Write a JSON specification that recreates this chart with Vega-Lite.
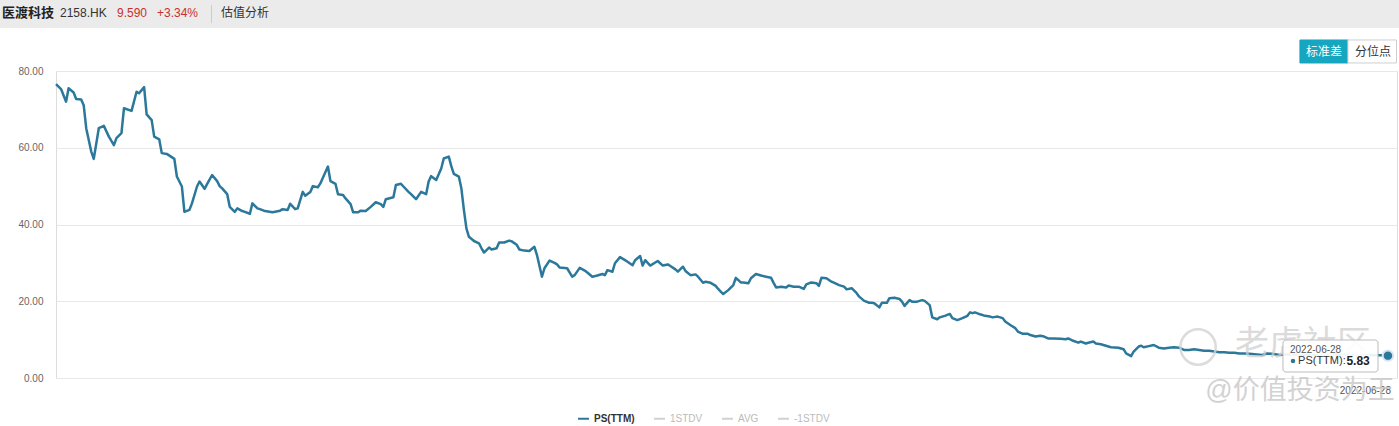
{
  "$schema": "https://vega.github.io/schema/vega-lite/v6.json",
  "width": 1341,
  "height": 307,
  "autosize": {"type": "none"},
  "padding": {"left": 56, "top": 71, "right": 2, "bottom": 48},
  "background": "white",
  "config": {
    "font": "Liberation Sans, Noto Sans CJK SC, sans-serif",
    "view": {"stroke": "#dcdcdc", "strokeWidth": 1}
  },
  "datasets": {
    "ps": [
      {"day":0,"ps":76.6},{"day":2,"ps":75.3},{"day":4,"ps":72.0},{"day":5,"ps":75.5},{"day":7,"ps":74.4},{"day":8,"ps":72.7},{"day":10,"ps":72.6},{"day":11,"ps":71.1},{"day":12,"ps":65.1},{"day":14,"ps":59.0},{"day":15,"ps":57.1},{"day":17,"ps":65.1},{"day":19,"ps":65.7},{"day":21,"ps":62.9},{"day":23,"ps":60.7},{"day":24,"ps":62.5},{"day":26,"ps":63.8},{"day":27,"ps":70.3},{"day":30,"ps":69.6},{"day":32,"ps":74.6},{"day":33,"ps":74.2},{"day":35,"ps":75.8},{"day":36,"ps":68.7},{"day":38,"ps":67.2},{"day":39,"ps":62.9},{"day":41,"ps":62.2},{"day":42,"ps":58.6},{"day":44,"ps":58.4},{"day":47,"ps":57.1},{"day":48,"ps":52.5},{"day":50,"ps":49.9},{"day":51,"ps":43.3},{"day":53,"ps":43.8},{"day":54,"ps":45.5},{"day":56,"ps":49.9},{"day":57,"ps":51.2},{"day":59,"ps":49.3},{"day":60,"ps":50.5},{"day":62,"ps":52.9},{"day":64,"ps":51.3},{"day":65,"ps":50.0},{"day":66,"ps":49.4},{"day":68,"ps":47.9},{"day":69,"ps":44.6},{"day":71,"ps":43.3},{"day":72,"ps":44.2},{"day":74,"ps":43.5},{"day":75,"ps":43.3},{"day":77,"ps":42.8},{"day":78,"ps":45.5},{"day":80,"ps":44.2},{"day":81,"ps":44.0},{"day":83,"ps":43.5},{"day":86,"ps":43.2},{"day":89,"ps":43.6},{"day":90,"ps":44.0},{"day":92,"ps":43.8},{"day":93,"ps":45.4},{"day":95,"ps":44.0},{"day":96,"ps":44.2},{"day":98,"ps":48.5},{"day":99,"ps":47.5},{"day":101,"ps":48.5},{"day":102,"ps":50.0},{"day":104,"ps":49.7},{"day":105,"ps":50.7},{"day":106,"ps":52.2},{"day":108,"ps":55.1},{"day":109,"ps":51.3},{"day":111,"ps":50.6},{"day":112,"ps":47.9},{"day":114,"ps":47.7},{"day":115,"ps":46.8},{"day":117,"ps":45.3},{"day":118,"ps":43.2},{"day":120,"ps":43.2},{"day":121,"ps":43.6},{"day":123,"ps":43.5},{"day":125,"ps":44.6},{"day":127,"ps":45.8},{"day":129,"ps":45.3},{"day":130,"ps":44.6},{"day":131,"ps":46.6},{"day":134,"ps":47.1},{"day":135,"ps":50.3},{"day":137,"ps":50.6},{"day":138,"ps":49.9},{"day":140,"ps":48.5},{"day":141,"ps":47.9},{"day":143,"ps":46.6},{"day":145,"ps":48.5},{"day":147,"ps":47.9},{"day":148,"ps":51.2},{"day":149,"ps":52.6},{"day":151,"ps":51.6},{"day":153,"ps":54.6},{"day":154,"ps":57.2},{"day":156,"ps":57.7},{"day":157,"ps":55.2},{"day":158,"ps":53.2},{"day":160,"ps":52.5},{"day":161,"ps":49.4},{"day":162,"ps":43.8},{"day":163,"ps":39.0},{"day":164,"ps":36.8},{"day":166,"ps":35.7},{"day":168,"ps":35.1},{"day":169,"ps":33.8},{"day":170,"ps":32.7},{"day":172,"ps":34.0},{"day":173,"ps":33.5},{"day":175,"ps":33.8},{"day":176,"ps":35.3},{"day":178,"ps":35.3},{"day":180,"ps":35.8},{"day":181,"ps":35.6},{"day":183,"ps":34.7},{"day":184,"ps":33.5},{"day":186,"ps":33.2},{"day":188,"ps":33.1},{"day":190,"ps":34.2},{"day":191,"ps":32.1},{"day":193,"ps":26.4},{"day":194,"ps":28.6},{"day":196,"ps":30.6},{"day":198,"ps":30.0},{"day":199,"ps":29.6},{"day":200,"ps":28.8},{"day":203,"ps":28.6},{"day":205,"ps":26.4},{"day":206,"ps":26.8},{"day":208,"ps":28.7},{"day":210,"ps":28.0},{"day":211,"ps":27.5},{"day":213,"ps":26.4},{"day":215,"ps":26.7},{"day":217,"ps":27.1},{"day":218,"ps":26.8},{"day":219,"ps":28.1},{"day":221,"ps":27.7},{"day":222,"ps":29.9},{"day":224,"ps":31.5},{"day":226,"ps":30.7},{"day":227,"ps":30.3},{"day":229,"ps":29.4},{"day":230,"ps":30.7},{"day":232,"ps":31.8},{"day":233,"ps":29.3},{"day":234,"ps":30.7},{"day":236,"ps":29.3},{"day":238,"ps":30.1},{"day":239,"ps":30.5},{"day":241,"ps":29.3},{"day":243,"ps":29.6},{"day":244,"ps":29.2},{"day":246,"ps":28.3},{"day":247,"ps":27.7},{"day":249,"ps":29.0},{"day":250,"ps":27.9},{"day":252,"ps":26.8},{"day":254,"ps":27.0},{"day":255,"ps":26.4},{"day":257,"ps":24.8},{"day":258,"ps":25.1},{"day":260,"ps":24.8},{"day":262,"ps":24.0},{"day":263,"ps":23.2},{"day":264,"ps":22.5},{"day":265,"ps":21.9},{"day":267,"ps":22.9},{"day":269,"ps":24.2},{"day":270,"ps":26.1},{"day":272,"ps":24.9},{"day":273,"ps":24.9},{"day":275,"ps":24.7},{"day":276,"ps":26.0},{"day":278,"ps":27.1},{"day":280,"ps":26.7},{"day":282,"ps":26.4},{"day":284,"ps":26.1},{"day":285,"ps":24.8},{"day":286,"ps":23.6},{"day":288,"ps":23.8},{"day":290,"ps":23.6},{"day":291,"ps":24.1},{"day":293,"ps":23.8},{"day":295,"ps":23.8},{"day":297,"ps":23.2},{"day":298,"ps":24.4},{"day":300,"ps":24.9},{"day":302,"ps":24.7},{"day":303,"ps":24.0},{"day":304,"ps":26.1},{"day":306,"ps":26.0},{"day":308,"ps":25.1},{"day":310,"ps":24.5},{"day":311,"ps":24.2},{"day":313,"ps":23.8},{"day":314,"ps":23.1},{"day":316,"ps":23.4},{"day":318,"ps":22.1},{"day":319,"ps":21.2},{"day":321,"ps":20.1},{"day":323,"ps":19.6},{"day":324,"ps":19.6},{"day":325,"ps":19.5},{"day":327,"ps":18.4},{"day":328,"ps":19.6},{"day":330,"ps":19.6},{"day":331,"ps":20.8},{"day":333,"ps":20.9},{"day":335,"ps":20.6},{"day":336,"ps":19.9},{"day":337,"ps":18.8},{"day":339,"ps":20.3},{"day":340,"ps":19.9},{"day":342,"ps":19.9},{"day":344,"ps":20.3},{"day":345,"ps":20.1},{"day":347,"ps":19.0},{"day":348,"ps":15.8},{"day":350,"ps":15.3},{"day":351,"ps":15.8},{"day":353,"ps":16.2},{"day":355,"ps":16.7},{"day":356,"ps":15.6},{"day":358,"ps":15.1},{"day":360,"ps":15.6},{"day":362,"ps":16.2},{"day":363,"ps":17.1},{"day":364,"ps":16.9},{"day":365,"ps":17.1},{"day":367,"ps":16.6},{"day":369,"ps":16.2},{"day":371,"ps":16.0},{"day":372,"ps":15.8},{"day":374,"ps":16.0},{"day":376,"ps":15.6},{"day":377,"ps":14.7},{"day":379,"ps":13.8},{"day":381,"ps":13.0},{"day":382,"ps":12.1},{"day":384,"ps":11.5},{"day":386,"ps":11.5},{"day":387,"ps":11.2},{"day":389,"ps":10.8},{"day":391,"ps":11.0},{"day":392,"ps":10.9},{"day":394,"ps":10.3},{"day":396,"ps":10.3},{"day":399,"ps":10.2},{"day":401,"ps":10.1},{"day":402,"ps":10.3},{"day":404,"ps":9.7},{"day":406,"ps":9.2},{"day":407,"ps":9.5},{"day":409,"ps":9.0},{"day":410,"ps":9.2},{"day":412,"ps":9.5},{"day":413,"ps":9.0},{"day":415,"ps":8.8},{"day":417,"ps":8.4},{"day":419,"ps":8.0},{"day":422,"ps":7.9},{"day":424,"ps":7.5},{"day":425,"ps":6.4},{"day":427,"ps":5.7},{"day":428,"ps":6.9},{"day":430,"ps":8.2},{"day":431,"ps":8.4},{"day":432,"ps":8.0},{"day":434,"ps":8.3},{"day":436,"ps":8.6},{"day":438,"ps":7.9},{"day":440,"ps":7.7},{"day":442,"ps":7.9},{"day":444,"ps":8.0},{"day":446,"ps":7.9},{"day":448,"ps":7.3},{"day":450,"ps":7.3},{"day":452,"ps":7.5},{"day":454,"ps":7.3},{"day":456,"ps":7.1},{"day":458,"ps":7.1},{"day":460,"ps":6.9},{"day":462,"ps":6.7},{"day":464,"ps":6.7},{"day":466,"ps":6.6},{"day":468,"ps":6.6},{"day":470,"ps":6.4},{"day":472,"ps":6.4},{"day":474,"ps":6.3},{"day":476,"ps":6.2},{"day":479,"ps":6.0},{"day":481,"ps":6.4},{"day":483,"ps":6.3},{"day":486,"ps":6.0},{"day":490,"ps":6.2},{"day":494,"ps":5.9},{"day":498,"ps":6.1},{"day":502,"ps":5.8},{"day":506,"ps":6.0},{"day":510,"ps":6.1},{"day":514,"ps":5.9},{"day":518,"ps":5.8},{"day":522,"ps":6.0},{"day":526,"ps":5.9},{"day":529,"ps":5.83}
    ]
  },
  "layer": [
    {
      "data": {"name": "ps"},
      "mark": {"type": "line", "strokeWidth": 2.5, "strokeJoin": "round"},
      "encoding": {
        "x": {"field": "day", "type": "quantitative", "scale": {"domain": [0, 532.6], "nice": false, "zero": false}, "axis": null},
        "y": {"field": "ps", "type": "quantitative", "scale": {"domain": [0, 80], "nice": false},
              "axis": {"values": [0, 20, 40, 60, 80], "format": ".2f", "title": null, "labelColor": "#666", "labelFontSize": 10, "ticks": false, "domain": false, "gridColor": "#e8e8e8", "labelPadding": 13}},
        "color": {"datum": "PS(TTM)",
          "scale": {"domain": ["PS(TTM)", "1STDV", "AVG", "-1STDV"], "range": ["#2b789b", "#d0d0d0", "#d0d0d0", "#d0d0d0"]},
          "legend": {"title": null, "orient": "none", "legendX": 521, "legendY": 341, "direction": "horizontal", "symbolType": "stroke", "symbolSize": 121, "symbolStrokeWidth": 2, "labelFontSize": 10, "labelOffset": 4, "columnPadding": 15, "padding": 0,
            "encode": {"labels": {"update": {"fill": {"signal": "datum.value === 'PS(TTM)' ? '#333333' : '#bbbbbb'"}, "fontWeight": {"signal": "datum.value === 'PS(TTM)' ? 'bold' : 'normal'"}}}}}
        }
      }
    },
    {
      "data": {"values": [{}]},
      "mark": {"type": "rect", "fill": "#ebebeb"},
      "encoding": {"x": {"datum": -22.3}, "x2": {"datum": 534}, "y": {"datum": 99}, "y2": {"datum": 91.2}}
    },
    {
      "data": {"values": [{}]},
      "mark": {"type": "rule", "stroke": "#cccccc", "strokeWidth": 1},
      "encoding": {"x": {"datum": 61.76}, "y": {"datum": 97.2}, "y2": {"datum": 92.5}}
    },
    {
      "data": {"values": [{}]},
      "mark": {"type": "text", "text": "医渡科技", "align": "left", "baseline": "middle", "fontSize": 13, "fontWeight": "bold", "color": "#222222"},
      "encoding": {"x": {"datum": -21.45}, "y": {"datum": 95.2}}
    },
    {
      "data": {"values": [{}]},
      "mark": {"type": "text", "text": "2158.HK", "align": "left", "baseline": "middle", "fontSize": 12, "color": "#333333"},
      "encoding": {"x": {"datum": 1.59}, "y": {"datum": 95.2}}
    },
    {
      "data": {"values": [{}]},
      "mark": {"type": "text", "text": "9.590", "align": "left", "baseline": "middle", "fontSize": 12, "color": "#c9302c"},
      "encoding": {"x": {"datum": 24.23}, "y": {"datum": 95.2}}
    },
    {
      "data": {"values": [{}]},
      "mark": {"type": "text", "text": "+3.34%", "align": "left", "baseline": "middle", "fontSize": 12, "color": "#c9302c"},
      "encoding": {"x": {"datum": 40.11}, "y": {"datum": 95.2}}
    },
    {
      "data": {"values": [{}]},
      "mark": {"type": "text", "text": "估值分析", "align": "left", "baseline": "middle", "fontSize": 12, "color": "#333333"},
      "encoding": {"x": {"datum": 65.53}, "y": {"datum": 95.2}}
    },
    {
      "data": {"values": [{}]},
      "mark": {"type": "rect", "fill": "#17a6c0", "stroke": "#17a6c0"},
      "encoding": {"x": {"datum": 494.05}, "x2": {"datum": 513.12}, "y": {"datum": 88.08}, "y2": {"datum": 82.09}}
    },
    {
      "data": {"values": [{}]},
      "mark": {"type": "rect", "fill": "#ffffff", "stroke": "#cfcfcf"},
      "encoding": {"x": {"datum": 513.12}, "x2": {"datum": 532.4}, "y": {"datum": 88.08}, "y2": {"datum": 82.09}}
    },
    {
      "data": {"values": [{}]},
      "mark": {"type": "text", "text": "标准差", "align": "center", "baseline": "middle", "fontSize": 12, "color": "#ffffff"},
      "encoding": {"x": {"datum": 503.6}, "y": {"datum": 85.08}}
    },
    {
      "data": {"values": [{}]},
      "mark": {"type": "text", "text": "分位点", "align": "center", "baseline": "middle", "fontSize": 12, "color": "#333333"},
      "encoding": {"x": {"datum": 523.07}, "y": {"datum": 85.08}}
    },
    {
      "data": {"values": [{}]},
      "mark": {"type": "point", "filled": false, "stroke": "#d4d4d4", "strokeWidth": 2.5, "size": 1250, "opacity": 0.8},
      "encoding": {"x": {"datum": 453.6}, "y": {"datum": 8.08}}
    },
    {
      "data": {"values": [{}]},
      "mark": {"type": "text", "text": "老虎社区", "align": "center", "baseline": "middle", "fontSize": 34, "color": "#cfcfcf", "opacity": 0.75},
      "encoding": {"x": {"datum": 495.3}, "y": {"datum": 8.6}}
    },
    {
      "data": {"values": [{}]},
      "mark": {"type": "rect", "fill": "#ffffff", "fillOpacity": 0.9, "stroke": "#bbbbbb", "strokeWidth": 1, "cornerRadius": 3},
      "encoding": {"x": {"datum": 487.3}, "x2": {"datum": 525.06}, "y": {"datum": 9.9}, "y2": {"datum": 1.56}}
    },
    {
      "data": {"values": [{}]},
      "mark": {"type": "text", "text": "2022-06-28", "align": "left", "baseline": "middle", "fontSize": 10, "color": "#555555"},
      "encoding": {"x": {"datum": 490.1}, "y": {"datum": 7.3}}
    },
    {
      "data": {"values": [{}]},
      "mark": {"type": "point", "filled": true, "size": 20, "color": "#2b789b", "opacity": 1},
      "encoding": {"x": {"datum": 491.3}, "y": {"datum": 4.43}}
    },
    {
      "data": {"values": [{}]},
      "mark": {"type": "text", "text": "PS(TTM):", "align": "left", "baseline": "middle", "fontSize": 11, "color": "#333333"},
      "encoding": {"x": {"datum": 493.3}, "y": {"datum": 4.43}}
    },
    {
      "data": {"values": [{}]},
      "mark": {"type": "text", "text": "5.83", "align": "left", "baseline": "middle", "fontSize": 12, "fontWeight": "bold", "color": "#222222"},
      "encoding": {"x": {"datum": 512.5}, "y": {"datum": 4.43}}
    },
    {
      "data": {"name": "ps"},
      "transform": [{"filter": "datum.day === 529"}],
      "mark": {"type": "point", "filled": true, "size": 110, "color": "#2b789b", "stroke": "#d6e6ee", "strokeWidth": 2, "opacity": 1},
      "encoding": {"x": {"field": "day", "type": "quantitative"}, "y": {"field": "ps", "type": "quantitative"}}
    },
    {
      "data": {"values": [{}]},
      "mark": {"type": "text", "text": "2022-06-28", "align": "right", "baseline": "middle", "fontSize": 10, "color": "#555555"},
      "encoding": {"x": {"datum": 530.2}, "y": {"datum": -3.39}}
    },
    {
      "data": {"values": [{}]},
      "mark": {"type": "text", "text": "@价值投资为王", "align": "center", "baseline": "middle", "fontSize": 27, "color": "#c8c8c8", "opacity": 0.8},
      "encoding": {"x": {"datum": 494.05}, "y": {"datum": -3.39}}
    }
  ]
}
